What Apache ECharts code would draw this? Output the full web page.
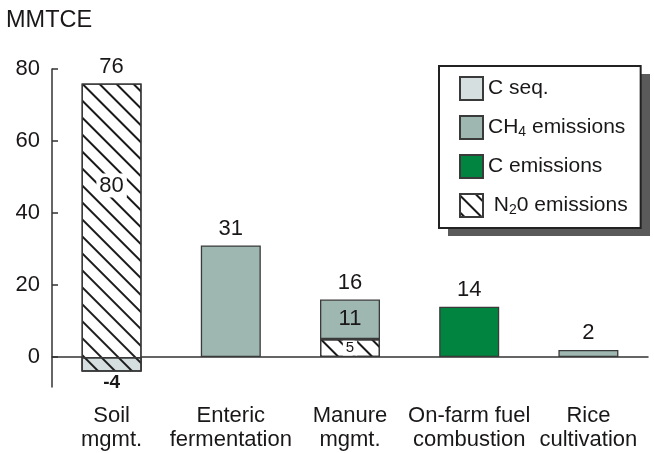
<!DOCTYPE html>
<html>
<head>
<meta charset="utf-8">
<script src="https://cdn.jsdelivr.net/npm/echarts@6/dist/echarts.min.js"></script>
<style>
  html, body { margin: 0; background: #fff; }
  #chart { width: 654px; height: 453px; }
</style>
</head>
<body>
<div id="chart"></div>
<script>
const categories = ['Soil\nmgmt.', 'Enteric\nfermentation', 'Manure\nmgmt.', 'On-farm fuel\ncombustion', 'Rice\ncultivation']
const cSeq  = [-4, 0, 0, 0, 0]
const n2o   = [80, 0, 5, 0, 0]
const ch4   = [0, 31, 11, 0, 2]
const cEmis = [0, 0, 0, 14, 0]
const yTicks = [0, 20, 40, 60, 80]

const totals = categories.map((_, i) => cSeq[i] + n2o[i] + ch4[i] + cEmis[i])

const FONT = 'Liberation Sans, Arial, Helvetica, sans-serif'
const INK = '#1a1718'
const EDGE = { borderColor: '#3a3a3a', borderWidth: 1.3 }
const HATCH = {
  symbol: 'rect', symbolSize: 1, dashArrayX: [1, 0], dashArrayY: [1.4, 9.2],
  rotation: Math.PI / 4, color: '#1a1a1a', backgroundColor: null,
}

// label for a segment when the bar has more than one piece
function segData(vals, lab) {
  return vals.map((v, i) => {
    if (!v) return '-'
    if (v === totals[i] || v < 0) return v
    return { value: v, label: { show: true, position: 'inside', textBorderWidth: 0, ...lab(i) } }
  })
}

const chart = echarts.init(document.getElementById('chart'), null, { renderer: 'canvas' })

chart.setOption({
  animation: false,
  textStyle: { fontFamily: FONT },
  title: { text: 'MMTCE', left: 1, top: 4,
    textStyle: { fontFamily: FONT, fontSize: 23.5, fontWeight: 'normal', color: INK } },
  grid: { left: 52, right: 6, top: 69, bottom: 66, outerBoundsMode: 'none' },
  // drop shadow behind the legend box
  graphic: [{ type: 'rect', left: 448, top: 74, z: 1, silent: true,
    shape: { width: 202, height: 162 }, style: { fill: '#5a5a5a' } }],
  legend: {
    orient: 'vertical', left: 439, top: 66, z: 5,
    padding: [10, 13, 10, 20],
    backgroundColor: '#fff', borderColor: '#222', borderWidth: 2,
    icon: 'rect', itemWidth: 23, itemHeight: 23, itemGap: 14,
    data: ['C seq.', 'CH4 emissions', 'C emissions', 'N20 emissions'],
    formatter: n => n === 'CH4 emissions' ? '{a|CH}{s|4}{a| emissions}'
      : n === 'N20 emissions' ? '{a| N}{s|2}{a|0 emissions}' : '{a|' + n + '}',
    textStyle: { color: INK, fontSize: 21, fontFamily: FONT,
      rich: { a: { fontSize: 21, color: INK, fontFamily: FONT },
              s: { fontSize: 14, color: INK, fontFamily: FONT, verticalAlign: 'bottom', padding: [9, 0, 0, 0] } } },
  },
  xAxis: {
    type: 'category', data: categories,
    axisLine: { onZero: true, lineStyle: { color: '#333', width: 1.5 } },
    axisTick: { show: false },
    axisLabel: { interval: 0, margin: 17, fontSize: 22, lineHeight: 24, color: INK, fontFamily: FONT },
  },
  yAxis: {
    type: 'value', min: -8.3, max: 80,
    axisLine: { show: true, lineStyle: { color: '#333', width: 1.5 } },
    axisTick: { show: true, inside: true, length: 6, customValues: yTicks, lineStyle: { color: '#333', width: 1.5 } },
    axisLabel: { customValues: yTicks, margin: 12, fontSize: 22, color: INK, fontFamily: FONT },
    splitLine: { show: false },
  },
  series: [
    { name: '_base', type: 'bar', stack: 'e', barWidth: 60, barGap: '-100%', silent: true,
      data: cSeq, itemStyle: { color: 'rgba(0,0,0,0)', borderWidth: 0 } },
    { name: 'N20 emissions', type: 'bar', stack: 'e', stackStrategy: 'all', barWidth: 60,
      itemStyle: { color: '#fff', ...EDGE, decal: HATCH },
      data: segData(n2o, i => n2o[i] > 10
        ? { fontSize: 22, color: INK, offset: [0, -42], backgroundColor: '#fff', padding: [2, 3, 0, 3] }
        : { fontSize: 15, color: INK, backgroundColor: '#fff', padding: [0, 3] }) },
    { name: 'CH4 emissions', type: 'bar', stack: 'e', barWidth: 60,
      itemStyle: { color: '#9eb7b1', ...EDGE },
      data: segData(ch4, () => ({ fontSize: 22, color: INK })) },
    { name: 'C emissions', type: 'bar', stack: 'e', barWidth: 60,
      itemStyle: { color: '#00843f', ...EDGE },
      data: cEmis.map(v => v || '-') },
    { name: 'C seq.', type: 'bar', stack: 'c', barWidth: 60, barGap: '-100%',
      itemStyle: { color: '#d5dfdf', ...EDGE },
      label: { show: true, position: 'bottom', distance: 2, fontSize: 19, fontWeight: 'bold', color: INK },
      data: cSeq.map(v => v ? { value: v, itemStyle: { decal: HATCH } } : '-') },
    { name: '_total', type: 'scatter', symbolSize: 1, silent: true,
      itemStyle: { color: 'rgba(0,0,0,0)' },
      label: { show: true, position: 'top', distance: 5, fontSize: 22, color: INK, opacity: 1, formatter: '{c}' },
      data: totals },
  ],
})
</script>
</body>
</html>
